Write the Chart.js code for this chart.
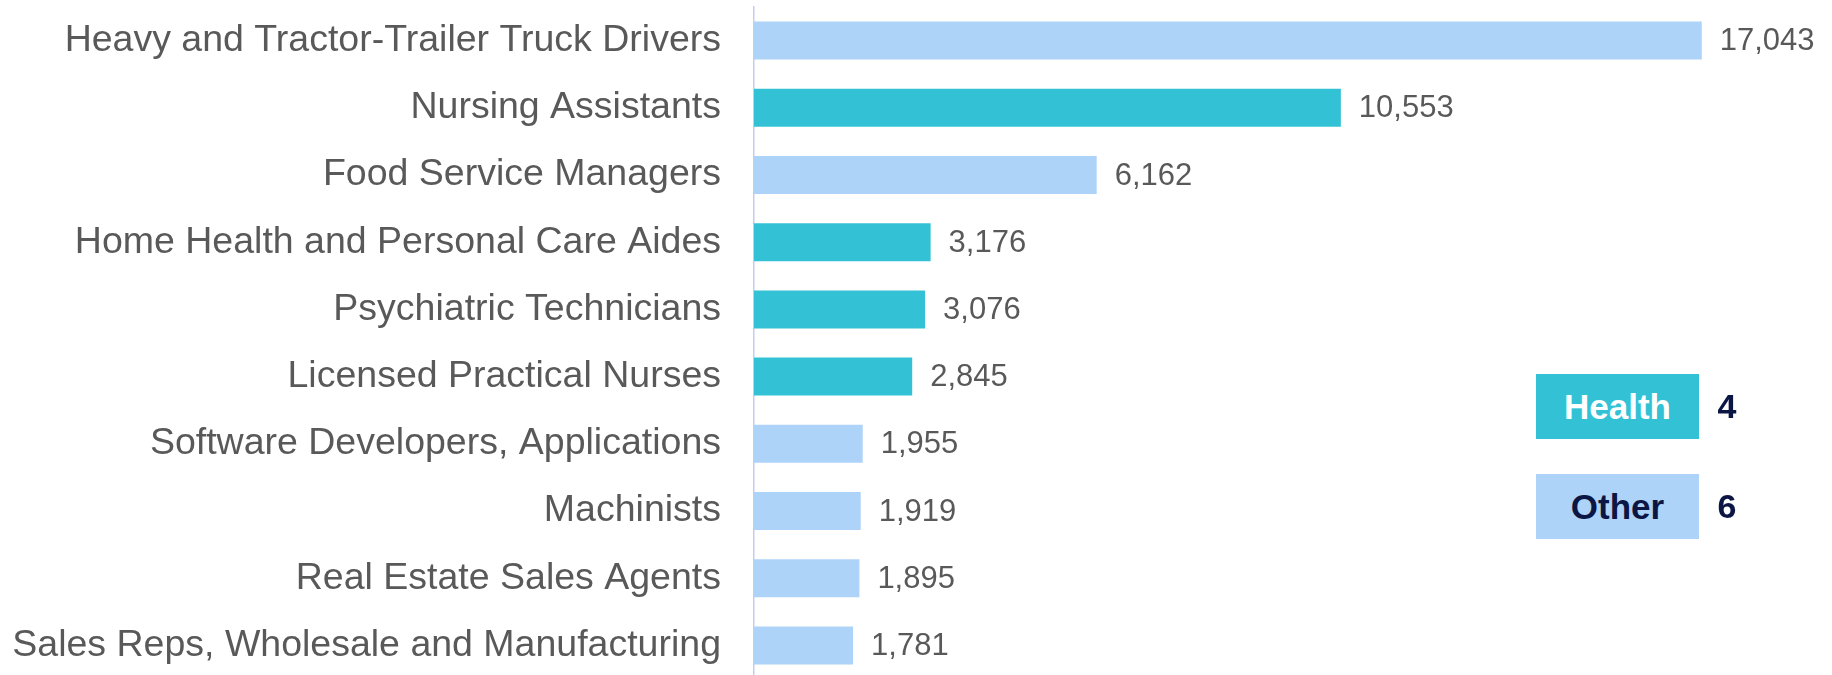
<!DOCTYPE html>
<html>
<head>
<meta charset="utf-8">
<script src="https://cdn.jsdelivr.net/npm/chart.js@4/dist/chart.umd.min.js"></script>
<style>
  body { margin: 0; overflow: hidden; background: #fff; font-family: "Liberation Sans", Arial, sans-serif; }
  #wrap { position: relative; width: 1832px; height: 680px; }
  .leyenda { position: absolute; left: 1536px; width: 163px; height: 65px; display: flex; align-items: center; justify-content: center; font-weight: bold; font-size: 35px; }
  .cuenta { position: absolute; left: 1712px; width: 30px; height: 65px; display: flex; align-items: center; justify-content: center; font-weight: bold; font-size: 34px; color: #0b1644; }
</style>
</head>
<body>
<div id="wrap">
  <canvas id="grafico" width="1832" height="680"></canvas>
  <div class="leyenda" id="ley-health" style="top:374px;background:#33c2d5;color:#fff;">Health</div>
  <div class="cuenta" id="num-health" style="top:374px;"></div>
  <div class="leyenda" id="ley-other" style="top:474px;background:#aed3f8;color:#0b1644;">Other</div>
  <div class="cuenta" id="num-other" style="top:474px;"></div>
</div>
<script>
// Datos
const ocupaciones = [
  'Heavy and Tractor-Trailer Truck Drivers',
  'Nursing Assistants',
  'Food Service Managers',
  'Home Health and Personal Care Aides',
  'Psychiatric Technicians',
  'Licensed Practical Nurses',
  'Software Developers, Applications',
  'Machinists',
  'Real Estate Sales Agents',
  'Sales Reps, Wholesale and Manufacturing'
];
const valores = [17043, 10553, 6162, 3176, 3076, 2845, 1955, 1919, 1895, 1781];
const grupos = ['Other', 'Health', 'Other', 'Health', 'Health', 'Health', 'Other', 'Other', 'Other', 'Other'];

const colorHealth = '#33c2d5';
const colorOther = '#aed3f8';

// Contadores de la leyenda
document.getElementById('num-health').textContent = grupos.filter(g => g === 'Health').length;
document.getElementById('num-other').textContent = grupos.filter(g => g === 'Other').length;

// Etiquetas de valor al final de cada barra
const etiquetasValor = {
  id: 'etiquetasValor',
  afterDatasetsDraw(chart) {
    const ctx = chart.ctx;
    const meta = chart.getDatasetMeta(0);
    ctx.save();
    ctx.font = '31px "Liberation Sans", Arial, sans-serif';
    ctx.fillStyle = '#595959';
    ctx.textAlign = 'left';
    ctx.textBaseline = 'middle';
    meta.data.forEach((bar, i) => {
      ctx.fillText(valores[i].toLocaleString('en-US'), bar.x + 18, bar.y + 1);
    });
    ctx.restore();
  }
};

const ctx = document.getElementById('grafico').getContext('2d');
const grafico = new Chart(ctx, {
  type: 'bar',
  data: {
    labels: ocupaciones,
    datasets: [{
      data: valores,
      backgroundColor: grupos.map(g => g === 'Health' ? colorHealth : colorOther),
      barPercentage: 0.565,
      categoryPercentage: 1
    }]
  },
  options: {
    indexAxis: 'y',
    responsive: false,
    animation: false,
    layout: { padding: { top: 7, right: 77, bottom: 1, left: 0 } },
    plugins: { legend: { display: false }, tooltip: { enabled: false } },
    scales: {
      x: { display: false, min: 0, max: 18000 },
      y: {
        afterFit(scale) {
          scale.width = 754;
          scale.paddingTop = 0;
          scale.paddingBottom = 0;
        },
        grid: { display: false, drawTicks: false },
        border: { display: true, color: '#c3cbf6', width: 1.5 },
        ticks: {
          padding: 33,
          color: '#595959',
          font: { family: '"Liberation Sans", Arial, sans-serif', size: 37.5 }
        }
      }
    }
  },
  plugins: [etiquetasValor]
});
</script>
</body>
</html>
